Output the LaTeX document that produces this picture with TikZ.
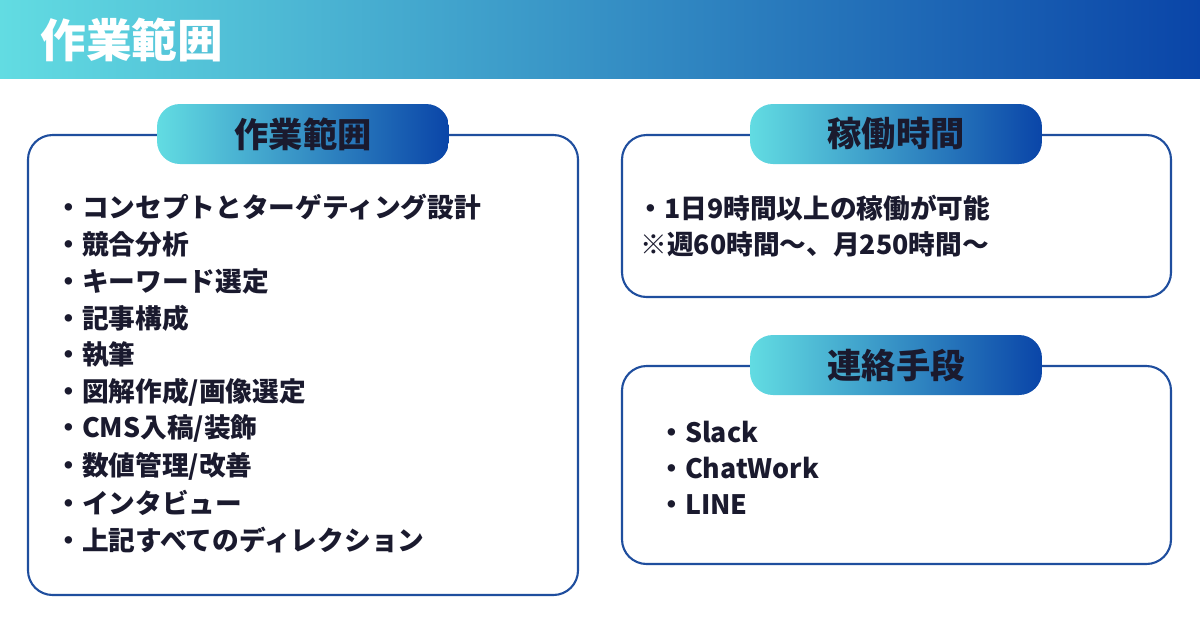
\documentclass[tikz,border=0pt]{standalone}
\usepackage{fontspec}
\setmainfont{Noto Sans CJK JP}
\usetikzlibrary{positioning}
\definecolor{lcyan}{HTML}{62DCE2}
\definecolor{dblue}{HTML}{0A45A8}
\definecolor{framec}{HTML}{1F4E9E}
\definecolor{inkc}{HTML}{1A1A2E}
\tikzset{
  panel/.style={draw=framec, line width=1.2pt, rounded corners=14pt, fill=white},
  pill/.style={rounded corners=13pt, left color=lcyan, right color=dblue, draw=none,
    minimum width=5.84cm, minimum height=1.2cm, text=inkc, font=\bfseries\fontsize{19.5}{22}\selectfont},
  item/.style={anchor=west, text=inkc, inner sep=0pt, font=\bfseries\fontsize{15.2}{17}\selectfont}
}
\begin{document}
\begin{tikzpicture}[x=0.02cm, y=-0.02cm]
  \useasboundingbox (0,0) rectangle (1200,630);
  % Header
  \shade[left color=lcyan, right color=dblue] (0,0) rectangle (1200,78);
  \node[anchor=west, text=white, inner sep=0pt, font=\bfseries\fontsize{26}{30}\selectfont] (title) at (40,40) {作業範囲};
  % Left panel
  \draw[panel] (28,135) rectangle (578,595);
  \node[pill] (scope) at (303,134) {作業範囲};
  \foreach \t [count=\i from 0] in {コンセプトとターゲティング設計, 競合分析, キーワード選定, 記事構成, 執筆,
      図解作成/画像選定, CMS入稿/装飾, 数値管理/改善, インタビュー, 上記すべてのディレクション}
    \node[item] (s\i) at (55,207+37*\i) {・\t};
  % Right top panel
  \draw[panel] (622,135) rectangle (1171,297);
  \node[pill] (hours) at (896,134) {稼働時間};
  \node[item] (h1) at (637,208) {・1日9時間以上の稼働が可能};
  \node[item] (h2) at (640,244) {※週60時間〜、月250時間〜};
  % Right bottom panel
  \draw[panel] (622,366) rectangle (1171,564);
  \node[pill] (contact) at (896,365) {連絡手段};
  \foreach \t [count=\i from 0] in {Slack, ChatWork, LINE}
    \node[item] (c\i) at (658,432+36.5*\i) {・\t};
\end{tikzpicture}
\end{document}
